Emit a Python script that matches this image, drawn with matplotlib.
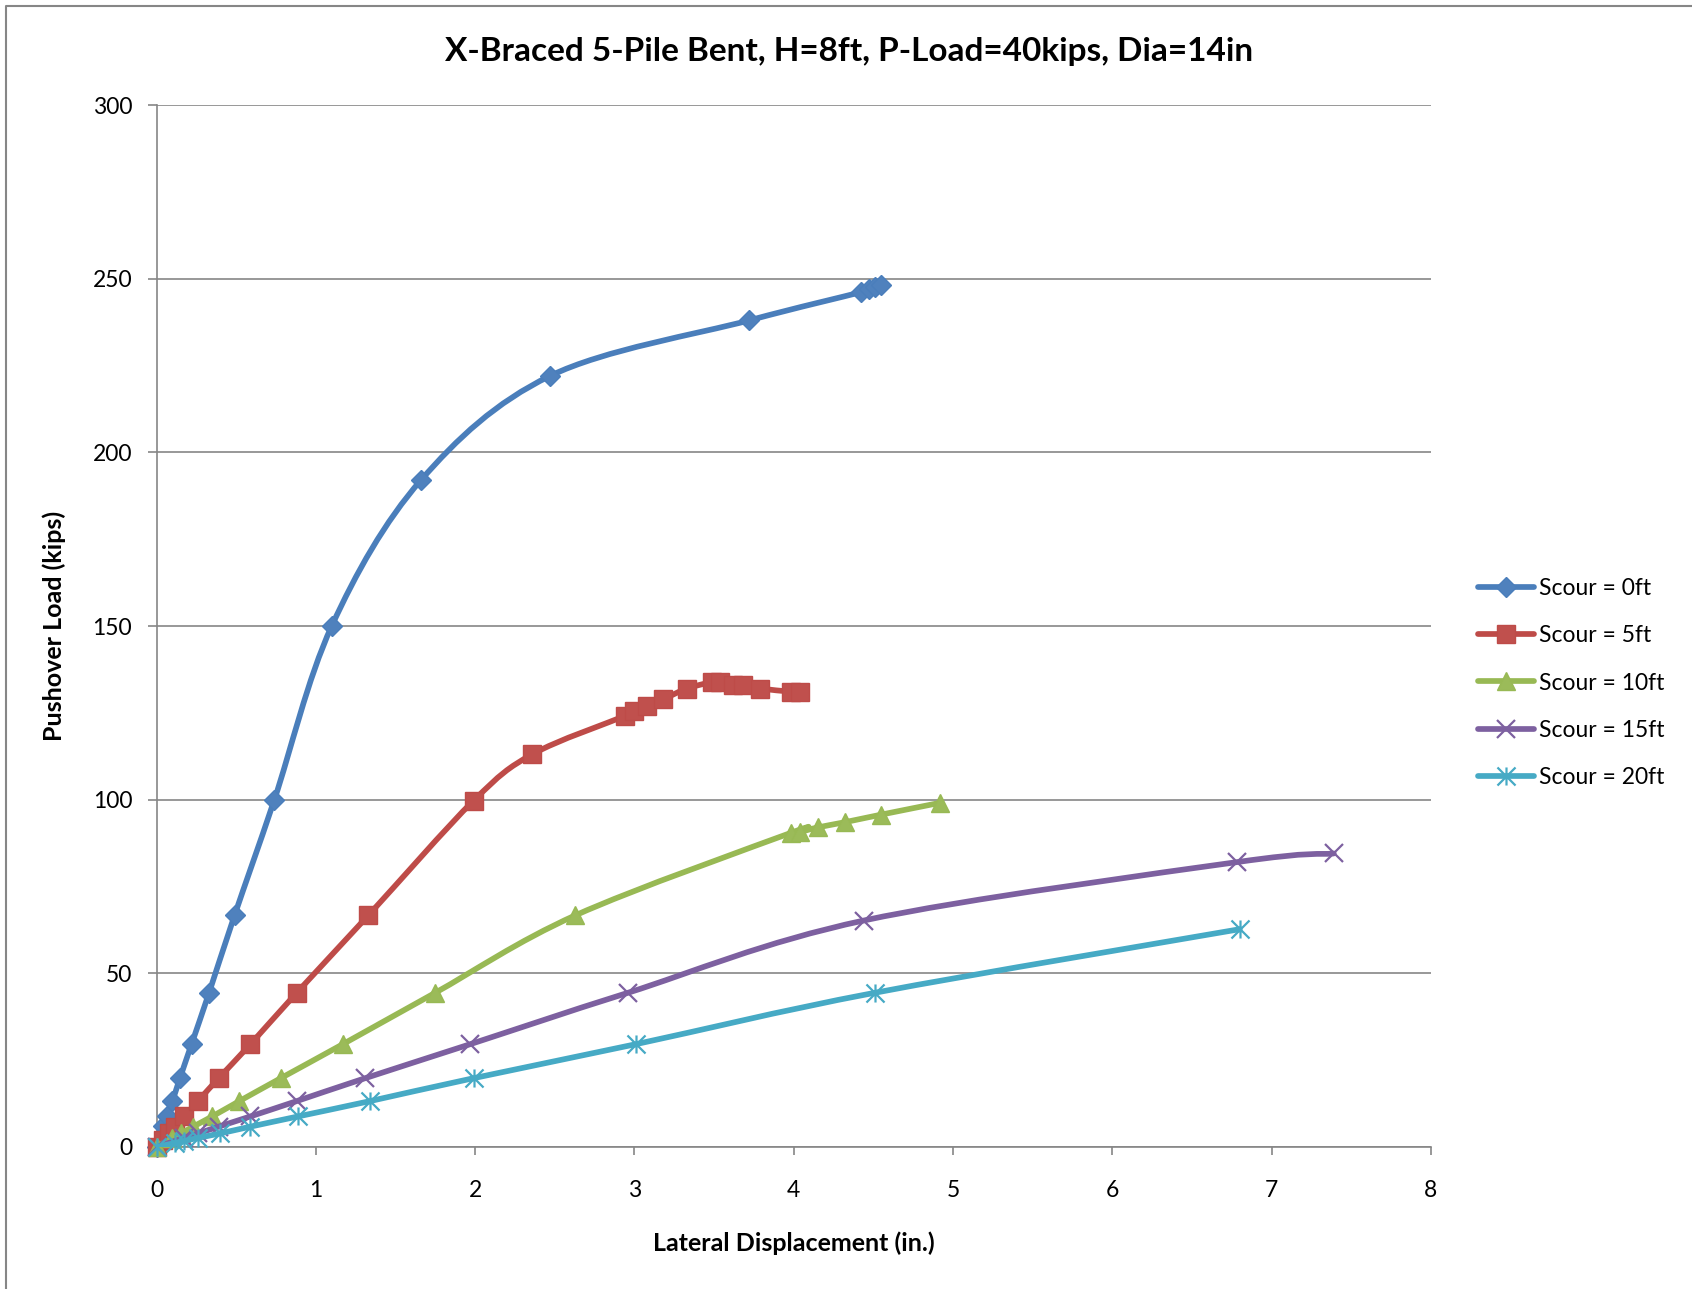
import matplotlib
matplotlib.use("Agg")
import matplotlib.pyplot as plt
import numpy as np
from matplotlib.lines import Line2D
from matplotlib.path import Path
from matplotlib.patches import PathPatch

plt.rcParams["font.family"] = ["Lato", "DejaVu Sans"]

TITLE = "X-Braced 5-Pile Bent, H=8ft, P-Load=40kips, Dia=14in"
X_LABEL = "Lateral Displacement (in.)"
Y_LABEL = "Pushover Load (kips)"

# Scour = 0ft
disp_0 = [0, 0.043, 0.065, 0.10, 0.147, 0.22, 0.33, 0.49, 0.74, 1.10, 1.66, 2.47, 3.72,
          4.42, 4.47, 4.51, 4.55]
load_0 = [0, 5.9, 8.8, 13.2, 19.8, 29.6, 44.4, 66.7, 100, 150, 192, 222, 238,
          246.1, 247, 247.6, 248.2]

# Scour = 5ft
disp_5 = [0, 0.04, 0.077, 0.116, 0.174, 0.26, 0.39, 0.59, 0.88, 1.33, 1.99, 2.36,
          2.94, 3.00, 3.08, 3.18, 3.33, 3.49, 3.54, 3.62, 3.68, 3.79, 3.98, 4.04]
load_5 = [0, 1.9, 3.9, 5.85, 8.8, 13.2, 19.8, 29.6, 44.4, 66.7, 99.7, 113.1,
          124.1, 125.5, 127, 128.9, 132, 133.9, 133.9, 133, 132.9, 132, 131.1, 131.1]

# Scour = 10ft
disp_10 = [0, 0.10, 0.155, 0.23, 0.35, 0.52, 0.78, 1.17, 1.75, 2.63, 3.98, 4.04,
           4.15, 4.32, 4.55, 4.92]
load_10 = [0, 2.6, 3.9, 5.85, 8.8, 13.2, 19.8, 29.6, 44.4, 66.7, 90.4, 90.7,
           92, 93.5, 95.7, 99.1]

# Scour = 15ft
disp_15 = [0, 0.17, 0.26, 0.39, 0.59, 0.88, 1.31, 1.97, 2.96, 4.44, 6.78, 7.39]
load_15 = [0, 2.6, 3.9, 5.85, 8.8, 13.2, 19.8, 29.6, 44.4, 65.2, 82.0, 84.5]

# Scour = 20ft
disp_20 = [0, 0.118, 0.175, 0.26, 0.40, 0.59, 0.89, 1.34, 1.99, 3.01, 4.51, 6.80]
load_20 = [0, 1.17, 1.73, 2.6, 3.9, 5.85, 8.8, 13.2, 19.8, 29.6, 44.4, 62.7]

labels = ["Scour = 0ft", "Scour = 5ft", "Scour = 10ft", "Scour = 15ft", "Scour = 20ft"]
x_ticks = [0, 1, 2, 3, 4, 5, 6, 7, 8]
y_ticks = [0, 50, 100, 150, 200, 250, 300]

GRID = "#868686"

# Excel-style asterisk: vertical bar plus an x
asterisk = Path([(0, -1), (0, 1), (-1, -1), (1, 1), (-1, 1), (1, -1)],
                [Path.MOVETO, Path.LINETO] * 3)

styles = [
    dict(color="#4A7EBB", marker="D", ms=10, mfc="#4F81BD", mew=1),
    dict(color="#BE4B48", marker="s", ms=13.5, mfc="#C0504D", mew=1),
    dict(color="#98B954", marker="^", ms=13.5, mfc="#9BBB59", mew=1),
    dict(color="#7D60A0", marker="x", ms=13, mfc="none", mew=1.6),
    dict(color="#46AAC5", marker=asterisk, ms=13, mfc="none", mew=1.6),
]


def smooth_path(x, y):
    # Catmull-Rom style bezier through the points, like Excel's smoothed line
    pts = np.column_stack([x, y]).astype(float)
    n = len(pts)
    verts = [pts[0]]
    codes = [Path.MOVETO]
    for i in range(n - 1):
        p0 = pts[i - 1] if i > 0 else pts[i]
        p1, p2 = pts[i], pts[i + 1]
        p3 = pts[i + 2] if i + 2 < n else pts[i + 1]
        verts += [p1 + (p2 - p0) / 6, p2 - (p3 - p1) / 6, p2]
        codes += [Path.CURVE4] * 3
    return Path(verts, codes)


fig = plt.figure(figsize=(16.92, 12.89), dpi=100)
ax = fig.add_axes([0.0925, 0.1102, 0.8457 - 0.0925, 0.9185 - 0.1102])

series = [(disp_0, load_0), (disp_5, load_5), (disp_10, load_10),
          (disp_15, load_15), (disp_20, load_20)]
handles = []
for k, ((xs, ys), st, lab) in enumerate(zip(series, styles, labels)):
    z = 3 + 2 * k
    ax.add_patch(PathPatch(smooth_path(xs, ys), fill=False, edgecolor=st["color"],
                           lw=4.1, capstyle="round", joinstyle="round", zorder=z))
    ax.plot(xs, ys, ls="none", marker=st["marker"], ms=st["ms"], mfc=st["mfc"],
            mec=st["color"], mew=st["mew"], zorder=z + 1, clip_on=False)
    handles.append(Line2D([], [], color=st["color"], lw=4.1, solid_capstyle="round",
                          marker=st["marker"], ms=st["ms"], mfc=st["mfc"],
                          mec=st["color"], mew=st["mew"], label=lab))

ax.set_xlim(0, 8)
ax.set_ylim(0, 300)
ax.set_xticks(x_ticks)
ax.set_yticks(y_ticks)
ax.yaxis.grid(True, color=GRID, lw=1.2)
ax.set_axisbelow(True)
for side in ["top", "right"]:
    ax.spines[side].set_visible(False)
for side in ["left", "bottom"]:
    ax.spines[side].set_color(GRID)
    ax.spines[side].set_linewidth(1.2)
ax.tick_params(axis="x", direction="out", length=6, width=1.2, color=GRID,
               labelsize=16.5, pad=18)
ax.tick_params(axis="y", direction="out", length=6.5, width=1.2, color=GRID,
               labelsize=16.5, pad=11)

ax.set_xlabel(X_LABEL, fontsize=18, fontweight="bold")
ax.set_ylabel(Y_LABEL, fontsize=18, fontweight="bold")
ax.xaxis.set_label_coords(0.5, -0.0806)
ax.yaxis.set_label_coords(-0.071, 0.5)

fig.text(849 / 1692, 1 - 51 / 1289, TITLE, ha="center", va="center",
         fontsize=24, fontweight="bold")

fig.legend(handles=handles, loc="center left",
           bbox_to_anchor=(1478 / 1692, 1 - 683 / 1289), frameon=False,
           fontsize=16.5, handlelength=2.45, handletextpad=0.22,
           labelspacing=1.15, borderpad=0, borderaxespad=0, numpoints=1)

# chart-area border (only its left and top edges are inside the picture)
bx, by = 6 / 1692, 1 - 6 / 1289
fig.add_artist(Line2D([bx, bx, 1.0], [0.0, by, by], transform=fig.transFigure,
                      color=GRID, lw=1.5))

fig.savefig("out.png", dpi=100)
